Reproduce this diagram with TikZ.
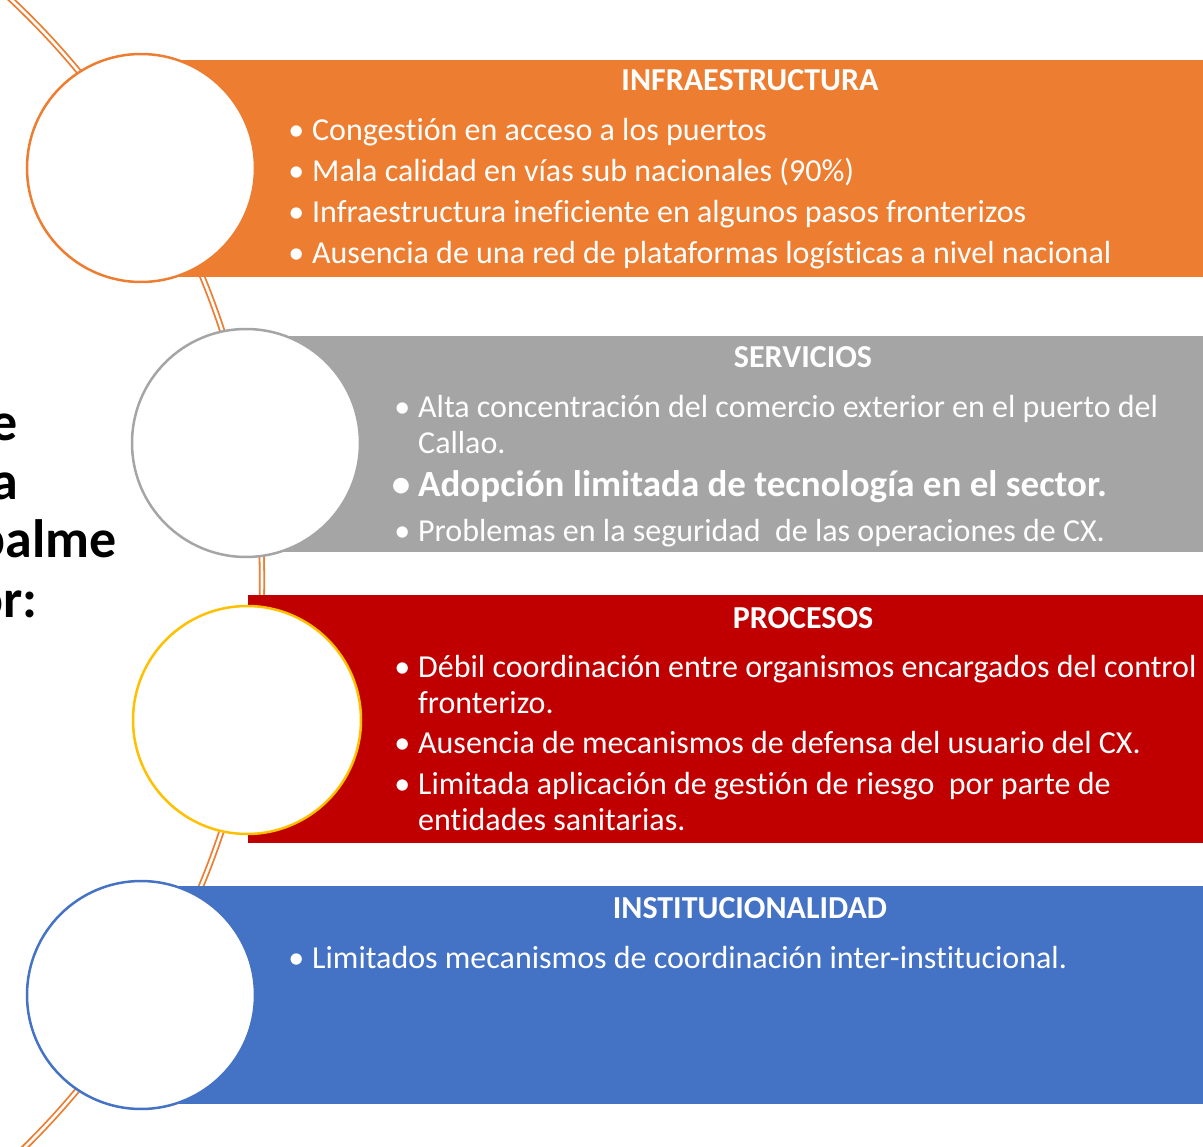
\documentclass[tikz,border=0pt]{standalone}
\usepackage{fontspec}
\setmainfont{Carlito}[Ligatures=CommonOff]
\usetikzlibrary{positioning}
\definecolor{naranja}{HTML}{ED7D31}
\definecolor{gris}{HTML}{A5A5A5}
\definecolor{rojo}{HTML}{C00000}
\definecolor{azul}{HTML}{4472C4}
\definecolor{amarillo}{HTML}{FFC000}
\newcommand{\bul}{\llap{\textbullet\hspace{8pt}}}

\tikzset{
  disc/.style={circle, draw=#1, line width=2.5pt, fill=white, minimum size=228pt, inner sep=0pt},
  header/.style={text=white, anchor=base, inner sep=0pt, font=\fontsize{32}{36}\selectfont\bfseries},
  item/.style={text=white, anchor=north west, inner sep=0pt, align=left, font=\fontsize{32}{36}\selectfont},
  bolditem/.style={text=white, anchor=base west, inner sep=0pt, font=\fontsize{37}{40}\selectfont\bfseries},
  lefttext/.style={anchor=base east, inner sep=0pt, font=\fontsize{54}{58}\selectfont\bfseries},
}

\begin{document}
\begin{tikzpicture}[x=1pt,y=-1pt]
\useasboundingbox (0,0) rectangle (1203,1147);
\fill[white] (0,0) rectangle (1203,1147);
\clip (0,0) rectangle (1203,1147);

% hilo doble detras de los circulos
\draw[naranja, line width=1.8pt, double=white, double distance=2.6pt] (-535,580) circle (797);

% franjas
\fill[naranja] (141,60) rectangle (1203,277);
\fill[gris] (246,336) rectangle (1203,552);
\fill[rojo] (248,595) rectangle (1203,843);
\fill[azul] (141,886) rectangle (1203,1104);

% circulos
\node[disc=naranja] (c1) at (141,168) {};
\node[disc=gris] (c2) at (246,443) {};
\node[disc=amarillo] (c3) at (247,720) {};
\node[disc=azul] (c4) at (141,995) {};

% texto cortado a la izquierda
\node[lefttext] (t1) at (18,441) {e};
\node[lefttext] (t2) at (18,500) {a};
\node[lefttext] (t3) at (117,558) {palme};
\node[lefttext] (t4) at (38,617) {or:};

% infraestructura
\node[header] (h1) at (750,91) {INFRAESTRUCTURA};
\node[item] (i11) at (312,114.8) {\bul\strut Congestión en acceso a los puertos};
\node[item] (i12) at (312,155.8) {\bul\strut Mala calidad en vías sub nacionales (90\%)};
\node[item] (i13) at (312,196.8) {\bul\strut Infraestructura ineficiente en algunos pasos fronterizos};
\node[item] (i14) at (312,237.8) {\bul\strut Ausencia de una red de plataformas logísticas a nivel nacional};

% servicios
\node[header] (h2) at (803,368) {SERVICIOS};
\node[item] (i21) at (418,391.8) {\bul\strut Alta concentración del comercio exterior en el puerto del\\Callao.};
\node[bolditem] (i22) at (418,497) {\bul Adopción limitada de tecnología en el sector.};
\node[item] (i23) at (418,515.8) {\bul\strut Problemas en la seguridad~ de las operaciones de CX.};

% procesos
\node[header] (h3) at (803,628) {PROCESOS};
\node[item] (i31) at (418,651.8) {\bul\strut Débil coordinación entre organismos encargados del control\\fronterizo.};
\node[item] (i32) at (418,727.8) {\bul\strut Ausencia de mecanismos de defensa del usuario del CX.};
\node[item] (i33) at (418,768.8) {\bul\strut Limitada aplicación de gestión de riesgo~ por parte de\\entidades sanitarias.};

% institucionalidad
\node[header] (h4) at (750,918) {INSTITUCIONALIDAD};
\node[item] (i41) at (312,942.8) {\bul\strut Limitados mecanismos de coordinación inter-institucional.};
\end{tikzpicture}
\end{document}
